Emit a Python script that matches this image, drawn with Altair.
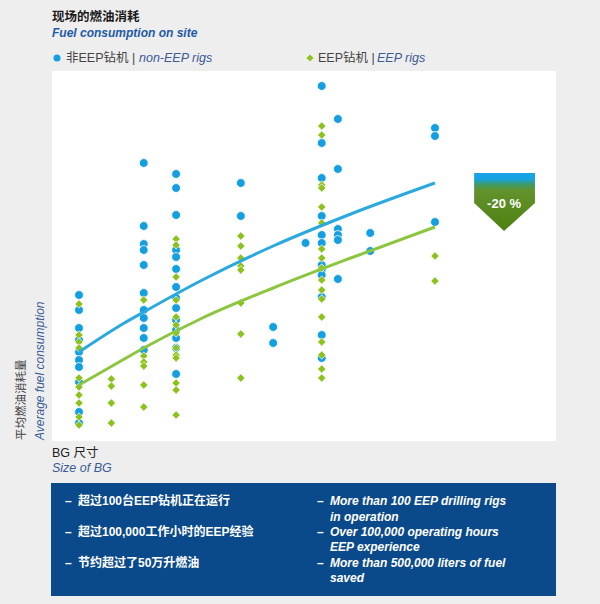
import altair as alt
import pandas as pd

# ---------------- data (BG size vs. relative average fuel consumption) ----------------
bg_sizes_non_eep = [12, 16, 18, 22, 24, 26, 27, 28, 30, 34]
non_eep_bg12 = [146, 131, 113, 101, 89, 81, 74, 59, 29, 18]
non_eep_bg16 = [278, 215, 197, 191, 176, 148, 131, 123, 113, 103, 91]
non_eep_bg18 = [267, 253, 226, 191, 184, 172, 154, 143, 133, 121, 111, 103, 93, 67]
non_eep_bg22 = [258, 225]
non_eep_bg24 = [114, 98]
non_eep_bg26 = [198]
non_eep_bg27 = [355, 298, 263, 225, 206, 198, 176, 171, 166, 144, 106, 83]
non_eep_bg28 = [322, 272, 212, 206, 201, 162]
non_eep_bg30 = [208, 190]
non_eep_bg34 = [313, 305, 219]

bg_sizes_eep = [12, 14, 16, 18, 22, 27, 34]
eep_bg12 = [137, 106, 99, 93, 63, 54, 46, 38, 24, 16]
eep_bg14 = [62, 55, 38, 18]
eep_bg16 = [141, 85, 79, 75, 56, 34]
eep_bg18 = [202, 196, 164, 141, 124, 116, 108, 93, 86, 83, 58, 51, 26]
eep_bg22 = [205, 195, 183, 175, 171, 138, 107, 63]
eep_bg27 = [315, 306, 256, 253, 234, 218, 192, 183, 173, 161, 151, 142, 124, 99, 86, 72, 63]
eep_bg34 = [185, 160]

trend_x = [12, 14.8, 16, 19.5, 24, 28.8, 34]
trend_non_eep = [89, 118, 129, 160, 195, 227, 258]
trend_eep = [56, 82, 93, 122, 153, 183, 214]

badge_x = [36.42, 38.27, 40.18]
badge_top = [268, 268, 268]
badge_bottom = [238, 210, 238]
badge_label = "-20 %"

title_cn = "现场的燃油消耗"
title_en = "Fuel consumption on site"
legend_non_cn = "非EEP钻机 | "
legend_non_en = "non-EEP rigs"
legend_eep_cn = "EEP钻机 | "
legend_eep_en = "EEP rigs"
yaxis_cn = "平均燃油消耗量"
yaxis_en = "Average fuel consumption"
xaxis_cn = "BG 尺寸"
xaxis_en = "Size of BG"
box_left = ["超过100台EEP钻机正在运行", "超过100,000工作小时的EEP经验", "节约超过了50万升燃油"]
box_right = ["More than 100 EEP drilling rigs", "in operation",
             "Over 100,000 operating hours", "EEP experience",
             "More than 500,000 liters of fuel", "saved"]

# ---------------- build tables ----------------
non_lists = [non_eep_bg12, non_eep_bg16, non_eep_bg18, non_eep_bg22, non_eep_bg24,
             non_eep_bg26, non_eep_bg27, non_eep_bg28, non_eep_bg30, non_eep_bg34]
eep_lists = [eep_bg12, eep_bg14, eep_bg16, eep_bg18, eep_bg22, eep_bg27, eep_bg34]

df_non = pd.DataFrame([{"size": s, "fuel": v} for s, vals in zip(bg_sizes_non_eep, non_lists) for v in vals])
df_eep = pd.DataFrame([{"size": s, "fuel": v} for s, vals in zip(bg_sizes_eep, eep_lists) for v in vals])
df_tn = pd.DataFrame({"size": trend_x, "fuel": trend_non_eep})
df_te = pd.DataFrame({"size": trend_x, "fuel": trend_eep})
df_badge = pd.DataFrame({"size": badge_x, "top": badge_top, "bottom": badge_bottom})
one = pd.DataFrame({"k": [0]})

BLUE = "#149fe2"
GREEN = "#8cc21e"
LBLUE = "#2aa9e0"
LGREEN = "#8cc63f"
NAVY = "#0b4a8a"
ITAL = "#3a5b96"
LAT = "Liberation Sans, Noto Sans CJK SC"

xs = alt.Scale(domain=[10.33, 41.48], nice=False, zero=False)
ys = alt.Scale(domain=[0, 370], nice=False, zero=False)
X = alt.X("size:Q", scale=xs, axis=None)
Y = alt.Y("fuel:Q", scale=ys, axis=None)

pts_non = alt.Chart(df_non).mark_point(
    shape="circle", filled=True, size=78, fill=BLUE, stroke="white", strokeWidth=0.8, opacity=1
).encode(x=X, y=Y)
pts_eep = alt.Chart(df_eep).mark_point(
    shape="diamond", filled=True, size=70, fill=GREEN, stroke="white", strokeWidth=0.7, opacity=1
).encode(x=X, y=Y)
line_non = alt.Chart(df_tn).mark_line(interpolate="monotone", strokeWidth=3, color=LBLUE).encode(x=X, y=Y)
line_eep = alt.Chart(df_te).mark_line(interpolate="monotone", strokeWidth=3, color=LGREEN).encode(x=X, y=Y)

grad = alt.Gradient(
    gradient="linear", x1=0, x2=0, y1=0, y2=1,
    stops=[alt.GradientStop(offset=0, color="#16a3e6"),
           alt.GradientStop(offset=0.1, color="#16a3e6"),
           alt.GradientStop(offset=0.2, color="#3f9a64"),
           alt.GradientStop(offset=0.3, color="#62922c"),
           alt.GradientStop(offset=1, color="#4e8010")])
badge = alt.Chart(df_badge).mark_area(color=grad, opacity=1).encode(
    x=X, y=alt.Y("top:Q", scale=ys, axis=None), y2="bottom:Q")
badge_txt = alt.Chart(one).mark_text(
    text=badge_label, color="white", fontSize=13, fontWeight="bold", font=LAT, align="center", baseline="middle"
).encode(x=alt.datum(badge_x[1], scale=xs), y=alt.datum(237, scale=ys))


def txt(s, x, y, size=12, weight="normal", style="normal", color="#222222", angle=0, font=LAT):
    return alt.Chart(one).mark_text(
        text=s, align="left", baseline="middle", fontSize=size, fontWeight=weight,
        fontStyle=style, color=color, angle=angle, font=font
    ).encode(x=alt.value(x), y=alt.value(y))


layers = [pts_non, pts_eep, line_non, line_eep, badge, badge_txt]

# header
layers.append(txt(title_cn, 0, -54, size=12.5, weight="bold", color="#1a1a1a"))
layers.append(txt(title_en, 0, -38, size=12, weight="bold", style="italic", color="#1f5aa6"))
layers.append(alt.Chart(one).mark_point(shape="circle", filled=True, size=50, fill=BLUE, opacity=1)
              .encode(x=alt.value(5), y=alt.value(-13)))
layers.append(txt(legend_non_cn, 14, -13, size=12.5, color="#444444"))
layers.append(txt(legend_non_en, 87, -13, size=12.5, style="italic", color=ITAL))
layers.append(alt.Chart(one).mark_point(shape="diamond", filled=True, size=50, fill=GREEN, opacity=1)
              .encode(x=alt.value(258), y=alt.value(-13)))
layers.append(txt(legend_eep_cn, 266, -13, size=12.5, color="#444444"))
layers.append(txt(legend_eep_en, 325, -13, size=12.5, style="italic", color=ITAL))

# axis titles
layers.append(txt(yaxis_cn, -30, 369, size=11.5, color="#444444", angle=270))
layers.append(txt(yaxis_en, -12, 369, size=12, style="italic", color=ITAL, angle=270))
layers.append(txt(xaxis_cn, 0, 382, size=12.5, color="#222222"))
layers.append(txt(xaxis_en, 0, 397, size=12.5, style="italic", color=ITAL))

# info box
layers.append(alt.Chart(one).mark_rect(color=NAVY).encode(
    x=alt.value(-1), x2=alt.value(504), y=alt.value(412), y2=alt.value(525)))
left_y = [430, 461, 492]
for s, yy in zip(box_left, left_y):
    layers.append(txt("–", 13, yy, size=12, weight="bold", color="white"))
    layers.append(txt(s, 26, yy, size=12, weight="bold", color="white"))
right_y = [430, 446, 461, 476, 492, 507]
for i, (s, yy) in enumerate(zip(box_right, right_y)):
    if i % 2 == 0:
        layers.append(txt("–", 265, yy, size=12, weight="bold", color="white"))
    layers.append(txt(s, 278, yy, size=12, weight="bold", style="italic", color="white"))

chart = alt.layer(*layers).properties(
    width=504, height=370,
    padding={"left": 52, "top": 71, "right": 44, "bottom": 163},
    autosize="none",
).configure(background="#eeeeee").configure_view(fill="white", stroke=None)

chart.save("out.html", embed_options={"renderer": "svg", "actions": False})
